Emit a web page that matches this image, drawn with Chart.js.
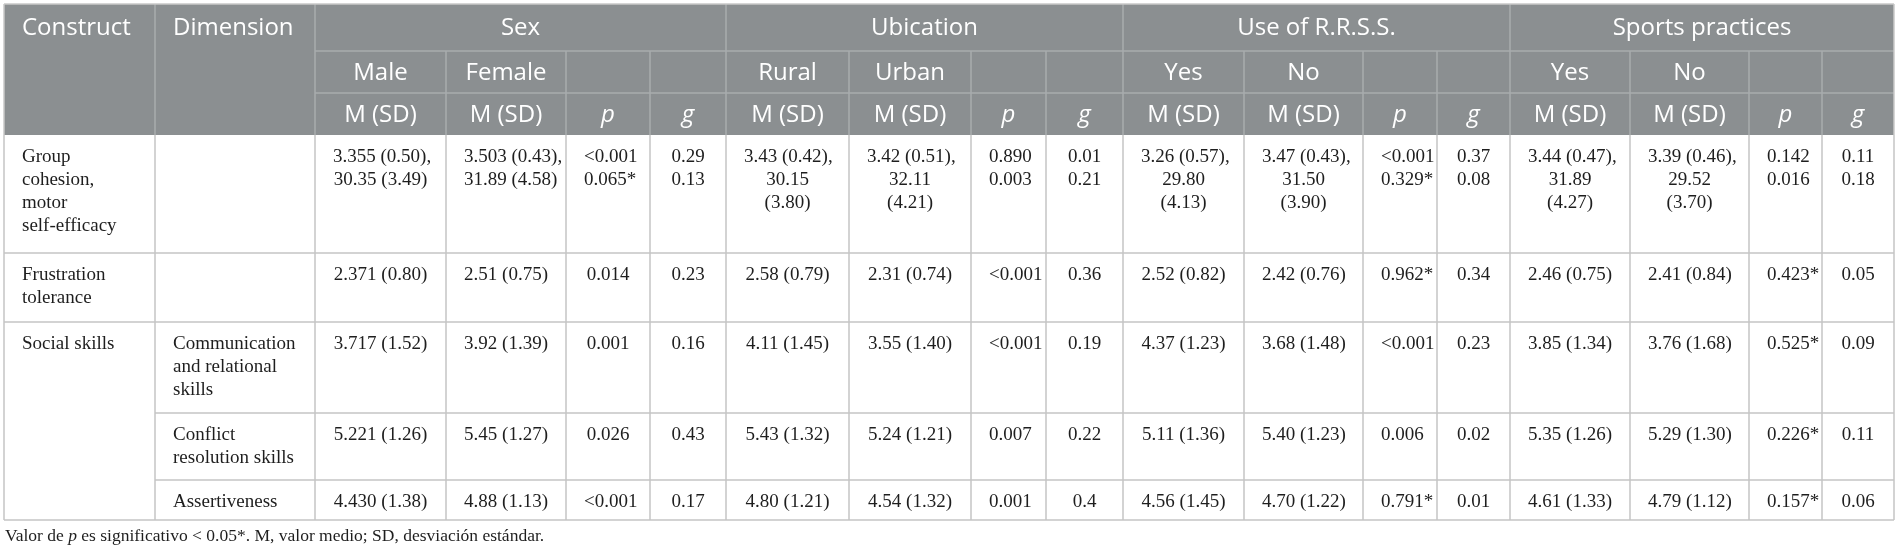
<!DOCTYPE html>
<html>
<head>
<meta charset="utf-8">
<script src="https://cdn.jsdelivr.net/npm/chart.js@4.4.1/dist/chart.umd.min.js"></script>
<style>
  html, body { margin: 0; padding: 0; background: #fff; }
  #wrap { width: 1900px; height: 553px; position: relative; }
</style>
</head>
<body>
<div id="wrap"><canvas id="tableChart"></canvas></div>
<script>
// Row labels
const constructs = ["Group\ncohesion,\nmotor\nself-efficacy", "Frustration\ntolerance", "Social skills", "", ""];
const dimensions = ["", "", "Communication\nand relational\nskills", "Conflict\nresolution skills", "Assertiveness"];

// Header labels
const groups = ["Sex", "Ubication", "Use of R.R.S.S.", "Sports practices"];
const groupLevels = [["Male", "Female"], ["Rural", "Urban"], ["Yes", "No"], ["Yes", "No"]];
const statLabels = ["M (SD)", "M (SD)", "p", "g"];

// Values per group, one entry per row: [level 1, level 2, p, g]
const sexValues = [
  ["3.355 (0.50),\n30.35 (3.49)", "3.503 (0.43),\n31.89 (4.58)", "<0.001\n0.065*", "0.29\n0.13"],
  ["2.371 (0.80)", "2.51 (0.75)", "0.014", "0.23"],
  ["3.717 (1.52)", "3.92 (1.39)", "0.001", "0.16"],
  ["5.221 (1.26)", "5.45 (1.27)", "0.026", "0.43"],
  ["4.430 (1.38)", "4.88 (1.13)", "<0.001", "0.17"]
];
const ubicationValues = [
  ["3.43 (0.42),\n30.15\n(3.80)", "3.42 (0.51),\n32.11\n(4.21)", "0.890\n0.003", "0.01\n0.21"],
  ["2.58 (0.79)", "2.31 (0.74)", "<0.001", "0.36"],
  ["4.11 (1.45)", "3.55 (1.40)", "<0.001", "0.19"],
  ["5.43 (1.32)", "5.24 (1.21)", "0.007", "0.22"],
  ["4.80 (1.21)", "4.54 (1.32)", "0.001", "0.4"]
];
const rrssValues = [
  ["3.26 (0.57),\n29.80\n(4.13)", "3.47 (0.43),\n31.50\n(3.90)", "<0.001\n0.329*", "0.37\n0.08"],
  ["2.52 (0.82)", "2.42 (0.76)", "0.962*", "0.34"],
  ["4.37 (1.23)", "3.68 (1.48)", "<0.001", "0.23"],
  ["5.11 (1.36)", "5.40 (1.23)", "0.006", "0.02"],
  ["4.56 (1.45)", "4.70 (1.22)", "0.791*", "0.01"]
];
const sportsValues = [
  ["3.44 (0.47),\n31.89\n(4.27)", "3.39 (0.46),\n29.52\n(3.70)", "0.142\n0.016", "0.11\n0.18"],
  ["2.46 (0.75)", "2.41 (0.84)", "0.423*", "0.05"],
  ["3.85 (1.34)", "3.76 (1.68)", "0.525*", "0.09"],
  ["5.35 (1.26)", "5.29 (1.30)", "0.226*", "0.11"],
  ["4.61 (1.33)", "4.79 (1.12)", "0.157*", "0.06"]
];
const groupValues = [sexValues, ubicationValues, rrssValues, sportsValues];

const footnote = [
  { text: "Valor de ", italic: false },
  { text: "p", italic: true },
  { text: " es significativo < 0.05*. M, valor medio; SD, desviación estándar.", italic: false }
];

// Layout (table units on the chart's scales)
const tableLeft = 4;
const tableTop = 4;
const colWidths = [151, 160, 131, 120, 84, 76, 123, 122, 75, 77, 121, 119, 74, 73, 120, 119, 73, 72];
const headerHeights = [47, 42, 42];
const rowHeights = [118, 69, 91, 67, 40];
const cellPad = 18;
const lineHeight = 23;
const firstLineOffset = 22;

const colEdges = [tableLeft];
colWidths.forEach(w => colEdges.push(colEdges[colEdges.length - 1] + w));
const headEdges = [tableTop];
headerHeights.forEach(h => headEdges.push(headEdges[headEdges.length - 1] + h));
const rowEdges = [headEdges[3]];
rowHeights.forEach(h => rowEdges.push(rowEdges[rowEdges.length - 1] + h));
const tableRight = colEdges[colEdges.length - 1];
const tableBottom = rowEdges[rowEdges.length - 1];

const headFont = '"Open Sans", sans-serif';
const bodyFont = '"Liberation Serif", "Times New Roman", serif';

const tablePlugin = {
  id: "tablePlugin",
  afterDraw(chart) {
    const ctx = chart.ctx;
    const sx = chart.scales.x;
    const sy = chart.scales.y;
    const px = v => sx.getPixelForValue(v);
    const py = v => sy.getPixelForValue(v);

    const line = (x1, y1, x2, y2) => {
      ctx.beginPath();
      ctx.moveTo(px(x1), py(y1));
      ctx.lineTo(px(x2), py(y2));
      ctx.stroke();
    };

    // draw (possibly multi-line) text in a cell
    const cellText = (text, c0, c1, top, align, font) => {
      ctx.font = font;
      ctx.textBaseline = "middle";
      const left = colEdges[c0];
      const right = colEdges[c1];
      text.split("\n").forEach((t, i) => {
        const yy = top + firstLineOffset + i * lineHeight;
        const w = ctx.measureText(t).width;
        if (align === "left" || w > px(right) - px(left) - 2 * cellPad) {
          ctx.textAlign = "left";
          ctx.fillText(t, px(left + cellPad), py(yy));
        } else {
          ctx.textAlign = "center";
          ctx.fillText(t, px((left + right) / 2), py(yy));
        }
      });
    };

    const headText = (text, c0, c1, r, align, italic) => {
      ctx.font = (italic ? "italic " : "") + "24px " + headFont;
      ctx.textBaseline = "middle";
      const yy = (headEdges[r] + headEdges[r + 1]) / 2 + 1;
      if (align === "left") {
        ctx.textAlign = "left";
        ctx.fillText(text, px(colEdges[c0] + cellPad), py(yy));
      } else {
        ctx.textAlign = "center";
        ctx.fillText(text, px((colEdges[c0] + colEdges[c1]) / 2), py(yy));
      }
    };

    ctx.save();

    // header background
    ctx.fillStyle = "#8b8f91";
    ctx.fillRect(px(tableLeft), py(tableTop), px(tableRight) - px(tableLeft), py(headEdges[3]) - py(tableTop));

    // header grid
    ctx.strokeStyle = "#a9acae";
    ctx.lineWidth = 1.5;
    for (let c = 1; c < colEdges.length - 1; c++) {
      const groupBorder = c === 1 || c === 2 || (c - 2) % 4 === 0;
      line(colEdges[c], groupBorder ? tableTop : headEdges[1], colEdges[c], headEdges[3]);
    }
    line(colEdges[2], headEdges[1], tableRight, headEdges[1]);
    line(colEdges[2], headEdges[2], tableRight, headEdges[2]);

    // header text
    ctx.fillStyle = "#ffffff";
    headText("Construct", 0, 1, 0, "left");
    headText("Dimension", 1, 2, 0, "left");
    groups.forEach((g, gi) => {
      const c0 = 2 + gi * 4;
      headText(g, c0, c0 + 4, 0, "center");
      groupLevels[gi].forEach((lv, li) => headText(lv, c0 + li, c0 + li + 1, 1, "center"));
      statLabels.forEach((s, si) => headText(s, c0 + si, c0 + si + 1, 2, "center", s.length === 1));
    });

    // body grid
    ctx.strokeStyle = "#c4c4c4";
    ctx.lineWidth = 1.5;
    for (let r = 1; r < rowEdges.length - 1; r++) {
      const startCol = (r === 3 || r === 4) ? 1 : 0;
      line(colEdges[startCol], rowEdges[r], tableRight, rowEdges[r]);
    }
    colEdges.forEach(e => line(e, headEdges[3], e, tableBottom));
    line(tableLeft, tableBottom, tableRight, tableBottom);

    // outer header edges
    ctx.strokeStyle = "#c8c8c8";
    line(tableLeft, tableTop, tableRight, tableTop);
    line(tableLeft, tableTop, tableLeft, headEdges[3]);
    line(tableRight, tableTop, tableRight, headEdges[3]);

    // body text
    ctx.fillStyle = "#1e1e1e";
    const bFont = "19px " + bodyFont;
    rowHeights.forEach((h, r) => {
      const top = rowEdges[r];
      if (constructs[r]) cellText(constructs[r], 0, 1, top, "left", bFont);
      if (dimensions[r]) cellText(dimensions[r], 1, 2, top, "left", bFont);
      groupValues.forEach((vals, gi) => {
        vals[r].forEach((v, vi) => {
          const c = 2 + gi * 4 + vi;
          cellText(v, c, c + 1, top, "center", bFont);
        });
      });
    });

    // footnote
    let fx = px(tableLeft + 1);
    const fy = py(tableBottom + 16);
    ctx.textAlign = "left";
    ctx.textBaseline = "middle";
    footnote.forEach(seg => {
      ctx.font = (seg.italic ? "italic " : "") + "17.5px " + bodyFont;
      ctx.fillText(seg.text, fx, fy);
      fx += ctx.measureText(seg.text).width;
    });

    ctx.restore();
  }
};

new Chart(document.getElementById("tableChart"), {
  type: "scatter",
  data: { datasets: [] },
  options: {
    responsive: true,
    maintainAspectRatio: false,
    animation: false,
    layout: { padding: 0 },
    plugins: { legend: { display: false }, tooltip: { enabled: false } },
    scales: {
      x: { type: "linear", min: 0, max: 1900, display: false },
      y: { type: "linear", min: 0, max: 553, reverse: true, display: false }
    }
  },
  plugins: [tablePlugin]
});
</script>
</body>
</html>
